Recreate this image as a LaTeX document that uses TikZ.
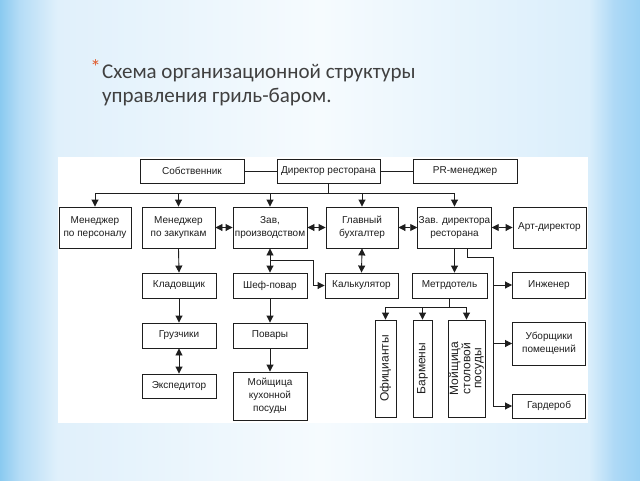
\documentclass[tikz,border=0pt]{standalone}
\usepackage{fontspec}
\setmainfont{Liberation Sans}
\newfontfamily\titlefont{Carlito}
\usetikzlibrary{arrows.meta}
\definecolor{titlegray}{HTML}{404040}
\definecolor{starred}{HTML}{E05A2B}
\definecolor{lineblk}{HTML}{1E1E1E}
\definecolor{bgA}{HTML}{8ACAF0}
\definecolor{bgB}{HTML}{B4DCF6}
\definecolor{bgC}{HTML}{E0F0FB}
\definecolor{bgD}{HTML}{F6FBFE}
\definecolor{bgE}{HTML}{DAEEFB}
\definecolor{bgF}{HTML}{AED9F6}
\definecolor{bgG}{HTML}{9AD1F4}
\pgfdeclarehorizontalshading{slidebg}{100bp}{color(0bp)=(bgA); color(25bp)=(bgA); color(26.5bp)=(bgB); color(29.5bp)=(bgC); color(50bp)=(bgD); color(71bp)=(bgE); color(73bp)=(bgF); color(75bp)=(bgG); color(100bp)=(bgG)}
\begin{document}
\begin{tikzpicture}[x=1pt,y=-1pt,
  box/.style={draw=lineblk, line width=0.9pt, fill=white, inner sep=1pt, align=center,
    font=\fontsize{10}{13}\selectfont, text=lineblk},
  vbox/.style={box, rotate=90, font=\fontsize{12}{11}\selectfont},
  sz/.style 2 args={minimum width=#1pt, minimum height=#2pt},
  ln/.style={line width=0.9pt, draw=lineblk},
  arr/.style={ln, -{Triangle[length=7pt,width=7pt]}},
  darr/.style={ln, {Triangle[length=7pt,width=7pt]}-{Triangle[length=7pt,width=7pt]}}]
\useasboundingbox (0,0) rectangle (640,480);
\shade[shading=slidebg] (0,0) rectangle (640,480);
\fill[white] (58,157) rectangle (588,423);
% title
\node[anchor=base east, text=starred, font=\titlefont\fontsize{21}{25}\selectfont, inner sep=0pt] (star) at (101,74) {*};
\node[anchor=base west, text=titlegray, font=\titlefont\fontsize{21}{25}\selectfont, inner sep=0pt] (t1) at (102,78) {Схема организационной структуры};
\node[anchor=base west, text=titlegray, font=\titlefont\fontsize{21}{25}\selectfont, inner sep=0pt] (t2) at (102,102) {управления гриль-баром.};
% row 1
\node[box, sz={104}{24}] (sob) at (192,171) {Собственник};
\node[box, sz={103}{24}] (dir) at (328.5,171) {Директор ресторана};
\node[box, sz={104}{24}] (pr) at (465,171) {PR-менеджер};
% row 2
\node[box, sz={72}{41}] (mp) at (95,227.5) {Менеджер\\по персоналу};
\node[box, sz={73}{41}] (mz) at (178.5,227.5) {Менеджер\\по закупкам};
\node[box, sz={74}{41}] (zp) at (270,227.5) {Зав,\\производством};
\node[box, sz={72}{41}] (gb) at (362,227.5) {Главный\\бухгалтер};
\node[box, sz={73}{41}] (zd) at (454.5,227.5) {Зав. директора\\ресторана};
\node[box, sz={73}{41}] (ad) at (549.5,227.5) {Арт-директор};
% row 3
\node[box, sz={74}{25}] (kl) at (179,285.5) {Кладовщик};
\node[box, sz={74}{25}] (sp) at (270,285.5) {Шеф-повар};
\node[box, sz={73}{25}] (kk) at (361.5,285.5) {Калькулятор};
\node[box, sz={75}{25}] (md) at (449.5,285.5) {Метрдотель};
\node[box, sz={73}{26}] (in) at (549,285) {Инженер};
% row 4
\node[box, sz={74}{25}] (gr) at (179,335.5) {Грузчики};
\node[box, sz={74}{25}] (pv) at (270,335.5) {Повары};
\node[box, sz={73}{43}] (uh) at (549,343.5) {Уборщики\\помещений};
% row 5
\node[box, sz={74}{24}] (ex) at (179,386) {Экспедитор};
\node[box, sz={74}{48}] (mk) at (270,396) {Мойщица\\кухонной\\посуды};
\node[box, sz={73}{24}] (gd) at (549,406) {Гардероб};
% vertical boxes
\node[vbox, sz={97}{21}] (of) at (385.5,368.5) {Официанты};
\node[vbox, sz={97}{19}] (bm) at (422.5,368.5) {Бармены};
\node[vbox, sz={97}{37}] (ms) at (466.5,368.5) {Мойщица\\столовой\\посуды};
% helper coordinates
\coordinate (bus) at (0,193);
\coordinate (kink) at (313,260);
\coordinate (r1) at (467,257);
\coordinate (r2) at (493,257);
\coordinate (mbus) at (0,307);
% row 1 links
\draw[ln] (sob.east) -- (dir.west);
\draw[ln] (dir.east) -- (pr.west);
\draw[ln] (dir.south) -- (dir.south |- bus);
\draw[ln] (mp.north |- bus) -- (zd.north |- bus);
\foreach \n in {mp,mz,zp,gb,zd} \draw[arr] (\n.north |- bus) -- (\n.north);
% row 2 double arrows
\draw[darr] (mz.east) -- (zp.west);
\draw[darr] (zp.east) -- (gb.west);
\draw[darr] (gb.east) -- (zd.west);
\draw[darr] (zd.east) -- (ad.west);
% column links
\draw[arr] (mz.south) -- (kl.north);
\draw[arr] (kl.south) -- (gr.north);
\draw[darr] (gr.south) -- (ex.north);
\draw[darr] (zp.south) -- (sp.north);
\draw[arr] (kink -| zp.south) -- (kink) |- (kk.west);
\draw[arr] (sp.south) -- (pv.north);
\draw[arr] (pv.south) -- (mk.north);
\draw[darr] (gb.south) -- (kk.north);
\draw[arr] (zd.south) -- (zd.south |- md.north);
% right rail
\draw[ln] (r1 |- zd.south) -- (r1) -- (r2) -- (r2 |- gd.west);
\draw[arr] (r2 |- in.west) -- (in.west);
\draw[arr] (r2 |- uh.west) -- (uh.west);
\draw[arr] (r2 |- gd.west) -- (gd.west);
% maitre d' branch
\draw[ln] (md.south) -- (md.south |- mbus);
\draw[ln] (of.east |- mbus) -- (ms.east |- mbus);
\draw[arr] (of.east |- mbus) -- (of.east);
\draw[arr] (bm.east |- mbus) -- (bm.east);
\draw[arr] (ms.east |- mbus) -- (ms.east);
\end{tikzpicture}
\end{document}
